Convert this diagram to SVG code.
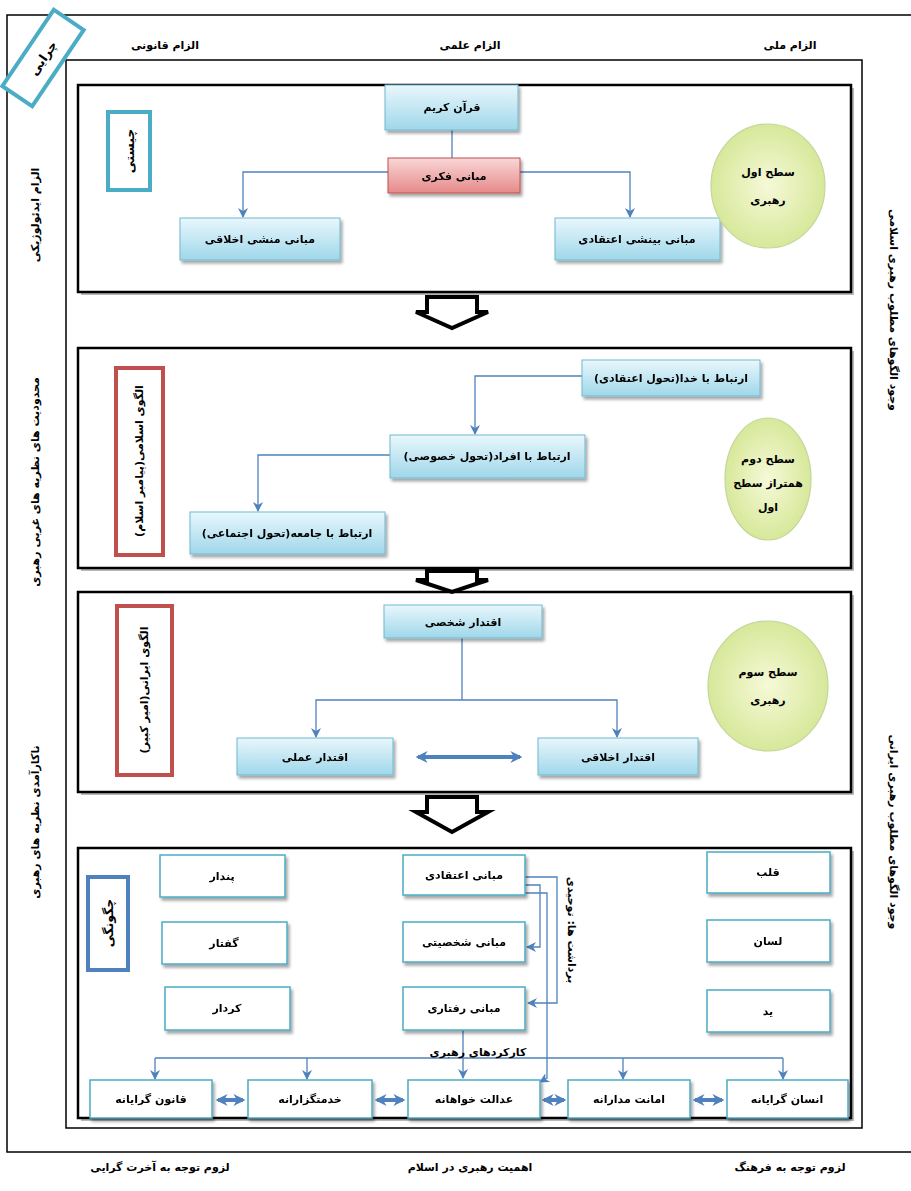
<svg xmlns="http://www.w3.org/2000/svg" width="911" height="1191" viewBox="0 0 911 1191">
<defs>
<style>
.t{font-family:"DejaVu Sans",sans-serif;font-size:11px;font-weight:bold;fill:#000;text-anchor:middle;direction:rtl;dominant-baseline:central}
.big{font-size:12.5px}
.sec{fill:#fff;stroke:#000;stroke-width:2.5}
.secsh{fill:#888;opacity:0.6}
.bb{fill:url(#gb);stroke:#6fb9d0;stroke-width:1}
.pb{fill:url(#gp);stroke:#c0504d;stroke-width:1}
.wb{fill:#fff;stroke:#4bacc6;stroke-width:1.5}
.circ{fill:url(#gc);stroke:#c3d69b;stroke-width:1.2}
.ln{fill:none;stroke:#4f81bd;stroke-width:1.3}
.lna{fill:none;stroke:#4f81bd;stroke-width:1.3;marker-end:url(#ah)}
.dbl{fill:none;stroke:#4f81bd;stroke-width:4;marker-start:url(#dh);marker-end:url(#dh)}
.blk{fill:#fff;stroke:#000;stroke-width:4;stroke-linejoin:miter}
</style>
<linearGradient id="gb" x1="0" y1="0" x2="0" y2="1"><stop offset="0" stop-color="#e9f7fc"/><stop offset="1" stop-color="#9fd7ea"/></linearGradient>
<linearGradient id="gp" x1="0" y1="0" x2="0" y2="1"><stop offset="0" stop-color="#f9d6d6"/><stop offset="1" stop-color="#e68a8a"/></linearGradient>
<radialGradient id="gc" cx="0.5" cy="0.5" r="0.5"><stop offset="0" stop-color="#f6f9d8"/><stop offset="1" stop-color="#d7e89a"/></radialGradient>
<filter id="sh" x="-10%" y="-10%" width="130%" height="140%"><feDropShadow dx="2" dy="3" stdDeviation="1.5" flood-color="#000" flood-opacity="0.35"/></filter>
<marker id="ah" viewBox="0 0 10 10" refX="9" refY="5" markerWidth="10" markerHeight="12" markerUnits="userSpaceOnUse" orient="auto-start-reverse"><path d="M0,0 L10,5 L0,10 L3,5 z" fill="#4f81bd"/></marker>
<marker id="dh" viewBox="0 0 10 10" refX="8" refY="5" markerWidth="12" markerHeight="14" markerUnits="userSpaceOnUse" orient="auto-start-reverse"><path d="M0,0 L10,5 L0,10 L3,5 z" fill="#4f81bd"/></marker>
</defs>
<rect width="911" height="1191" fill="#fff"/>

<g id="frames">
<rect x="7" y="15" width="912" height="1137" fill="none" stroke="#000" stroke-width="1.5"/>
<rect x="66" y="60" width="796" height="1068" fill="none" stroke="#000" stroke-width="1.5"/>
</g>

<g id="why">
<rect x="-46" y="-18" width="92" height="36" transform="translate(43,58) rotate(-56)" fill="#fff" stroke="#4bacc6" stroke-width="4"/>
<text class="t big" transform="translate(43,58) rotate(-56)" x="0" y="0">چرایی</text>
</g>

<g id="header">
<text class="t" x="165" y="45">الزام قانونی</text>
<text class="t" x="470" y="45">الزام علمی</text>
<text class="t" x="790" y="45">الزام ملی</text>
</g>

<g id="side-left">
<text class="t" transform="translate(35,215) rotate(-90)">الزام ایدئولوژیکی</text>
<text class="t" transform="translate(35,482) rotate(-90)">محدودیت های نظریه های غربی رهبری</text>
<text class="t" transform="translate(35,822) rotate(-90)">ناکارآمدی نظریه های رهبری</text>
</g>
<g id="side-right">
<text class="t" transform="translate(893,310) rotate(90)">وجود الگوهای مطلوب رهبری اسلامی</text>
<text class="t" transform="translate(893,832) rotate(90)">وجود الگوهای مطلوب رهبری ایرانی</text>
</g>

<g id="footer">
<text class="t" x="160" y="1167">لزوم توجه به آخرت گرایی</text>
<text class="t" x="470" y="1167">اهمیت رهبری در اسلام</text>
<text class="t" x="790" y="1167">لزوم توجه به فرهنگ</text>
</g>

<g id="section1"><rect class="secsh" x="81" y="88" width="773" height="207"/><rect class="sec" x="78" y="85" width="773" height="207"/></g>
<g id="section2"><rect class="secsh" x="81" y="351" width="773" height="220"/><rect class="sec" x="78" y="348" width="773" height="220"/></g>
<g id="section3"><rect class="secsh" x="81" y="595" width="773" height="200"/><rect class="sec" x="78" y="592" width="773" height="200"/></g>
<g id="section4"><rect class="secsh" x="81" y="851" width="773" height="270"/><rect class="sec" x="78" y="848" width="773" height="270"/></g>

<g id="block-arrows">
<path class="blk" d="M427,297 H477 V312 H488 L452,328 L416,312 H427 Z"/>
<path class="blk" d="M427,571 H477 V580 H488 L452,592 L416,580 H427 Z"/>
<path class="blk" d="M427,797 H477 V812 H488 L452,832 L416,812 H427 Z"/>
</g>

<g id="connectors">
<path class="ln" d="M452,130 V158"/>
<path class="lna" d="M388,172 H243 V217"/>
<path class="lna" d="M520,172 H630 V217"/>
<path class="lna" d="M582,376 H475 V434"/>
<path class="lna" d="M390,455 H258 V511"/>
<path class="ln" d="M462,638 V700"/>
<path class="lna" d="M462,700 H316 V737"/>
<path class="lna" d="M462,700 H617 V737"/>
<path class="dbl" d="M418,757 H520"/>
<path class="lna" d="M525,877 H557 V1003 H528"/>
<path class="lna" d="M525,885 H540 V947 H527"/>
<path class="lna" d="M525,893 H547 V1078 L540,1082"/>
<path class="lna" d="M463,1030 V1078"/>
<path class="ln" d="M155,1058 H783"/>
<path class="lna" d="M155,1058 V1079"/>
<path class="lna" d="M307,1058 V1079"/>
<path class="lna" d="M623,1058 V1079"/>
<path class="lna" d="M783,1058 V1079"/>
<path class="dbl" d="M218,1100 H243"/>
<path class="dbl" d="M377,1100 H403"/>
<path class="dbl" d="M544,1100 H564"/>
<path class="dbl" d="M695,1100 H722"/>
</g>

<g id="n-chisti"><rect x="108" y="112" width="42" height="78" fill="#fff" stroke="#4bacc6" stroke-width="4"/><text class="t big" transform="translate(129,151) rotate(-90)">چیستی</text></g>
<g id="n-quran" filter="url(#sh)"><rect class="bb" x="385" y="85" width="133" height="45"/><text class="t" x="452" y="107">قرآن کریم</text></g>
<g id="n-fekri" filter="url(#sh)"><rect class="pb" x="388" y="158" width="132" height="35"/><text class="t" x="454" y="176">مبانی فکری</text></g>
<g id="n-manshi" filter="url(#sh)"><rect class="bb" x="180" y="218" width="160" height="42"/><text class="t" x="260" y="239">مبانی منشی اخلاقی</text></g>
<g id="n-binshi" filter="url(#sh)"><rect class="bb" x="555" y="218" width="165" height="42"/><text class="t" x="637" y="239">مبانی بینشی اعتقادی</text></g>
<g id="c1"><ellipse class="circ" cx="768" cy="186" rx="57" ry="62"/><text class="t" x="768" y="172">سطح اول</text><text class="t" x="768" y="200">رهبری</text></g>

<g id="n-eslami"><rect x="116" y="368" width="47" height="187" fill="#fff" stroke="#c0504d" stroke-width="4"/><text class="t" transform="translate(139.5,461) rotate(-90)">الگوی اسلامی(پیامبر اسلام)</text></g>
<g id="n-khoda" filter="url(#sh)"><rect class="bb" x="582" y="360" width="178" height="36"/><text class="t" x="671" y="378">ارتباط با خدا(تحول اعتقادی)</text></g>
<g id="n-afrad" filter="url(#sh)"><rect class="bb" x="390" y="435" width="195" height="43"/><text class="t" x="487" y="456">ارتباط با افراد(تحول خصوصی)</text></g>
<g id="n-jameh" filter="url(#sh)"><rect class="bb" x="190" y="512" width="195" height="42"/><text class="t" x="287" y="533">ارتباط با جامعه(تحول اجتماعی)</text></g>
<g id="c2"><ellipse class="circ" cx="768" cy="479" rx="43" ry="61"/><text class="t" x="768" y="459">سطح دوم</text><text class="t" x="768" y="483">همتراز سطح</text><text class="t" x="768" y="507">اول</text></g>

<g id="n-irani"><rect x="117" y="606" width="55" height="169" fill="#fff" stroke="#c0504d" stroke-width="4"/><text class="t" transform="translate(144.5,690) rotate(-90)">الگوی ایرانی(امیر کبیر)</text></g>
<g id="n-shakhsi" filter="url(#sh)"><rect class="bb" x="384" y="605" width="158" height="33"/><text class="t" x="463" y="622">اقتدار شخصی</text></g>
<g id="n-amali" filter="url(#sh)"><rect class="bb" x="237" y="738" width="156" height="37"/><text class="t" x="315" y="757">اقتدار عملی</text></g>
<g id="n-akhlaghi" filter="url(#sh)"><rect class="bb" x="538" y="738" width="160" height="37"/><text class="t" x="618" y="757">اقتدار اخلاقی</text></g>
<g id="c3"><ellipse class="circ" cx="768" cy="686" rx="60" ry="65"/><text class="t" x="768" y="672">سطح سوم</text><text class="t" x="768" y="700">رهبری</text></g>

<g id="n-chegoonegi"><rect x="88" y="877" width="40" height="93" fill="#fff" stroke="#4f81bd" stroke-width="4"/><text class="t big" transform="translate(108,923) rotate(-90)">چگونگی</text></g>
<g id="n-pendar" filter="url(#sh)"><rect class="wb" x="160" y="855" width="125" height="42"/><text class="t" x="222" y="876">پندار</text></g>
<g id="n-goftar" filter="url(#sh)"><rect class="wb" x="162" y="922" width="125" height="42"/><text class="t" x="224" y="943">گفتار</text></g>
<g id="n-kerdar" filter="url(#sh)"><rect class="wb" x="165" y="987" width="125" height="43"/><text class="t" x="227" y="1008">کردار</text></g>
<g id="n-etghadi" filter="url(#sh)"><rect class="wb" x="403" y="855" width="122" height="40"/><text class="t" x="464" y="875">مبانی اعتقادی</text></g>
<g id="n-shakhsiati" filter="url(#sh)"><rect class="wb" x="403" y="922" width="122" height="40"/><text class="t" x="464" y="942">مبانی شخصیتی</text></g>
<g id="n-raftari" filter="url(#sh)"><rect class="wb" x="403" y="987" width="122" height="43"/><text class="t" x="464" y="1008">مبانی رفتاری</text></g>
<g id="n-ghalb" filter="url(#sh)"><rect class="wb" x="707" y="852" width="123" height="41"/><text class="t" x="768" y="872">قلب</text></g>
<g id="n-lesan" filter="url(#sh)"><rect class="wb" x="707" y="920" width="123" height="42"/><text class="t" x="768" y="941">لسان</text></g>
<g id="n-yad" filter="url(#sh)"><rect class="wb" x="707" y="990" width="123" height="42"/><text class="t" x="768" y="1011">ید</text></g>
<g id="l-bardasht"><text class="t" transform="translate(571,930) rotate(90)">برداشت ها: توحیدی</text></g>
<g id="l-karkard"><text class="t" x="478" y="1052">کارکردهای رهبری</text></g>
<g id="n-ghanoon" filter="url(#sh)"><rect class="wb" x="90" y="1080" width="122" height="38"/><text class="t" x="151" y="1099">قانون گرایانه</text></g>
<g id="n-khedmat" filter="url(#sh)"><rect class="wb" x="248" y="1080" width="124" height="38"/><text class="t" x="310" y="1099">خدمتگزارانه</text></g>
<g id="n-edalat" filter="url(#sh)"><rect class="wb" x="408" y="1080" width="132" height="38"/><text class="t" x="474" y="1099">عدالت خواهانه</text></g>
<g id="n-amanat" filter="url(#sh)"><rect class="wb" x="568" y="1080" width="122" height="38"/><text class="t" x="629" y="1099">امانت مدارانه</text></g>
<g id="n-ensan" filter="url(#sh)"><rect class="wb" x="727" y="1080" width="121" height="38"/><text class="t" x="787" y="1099">انسان گرایانه</text></g>
</svg>
